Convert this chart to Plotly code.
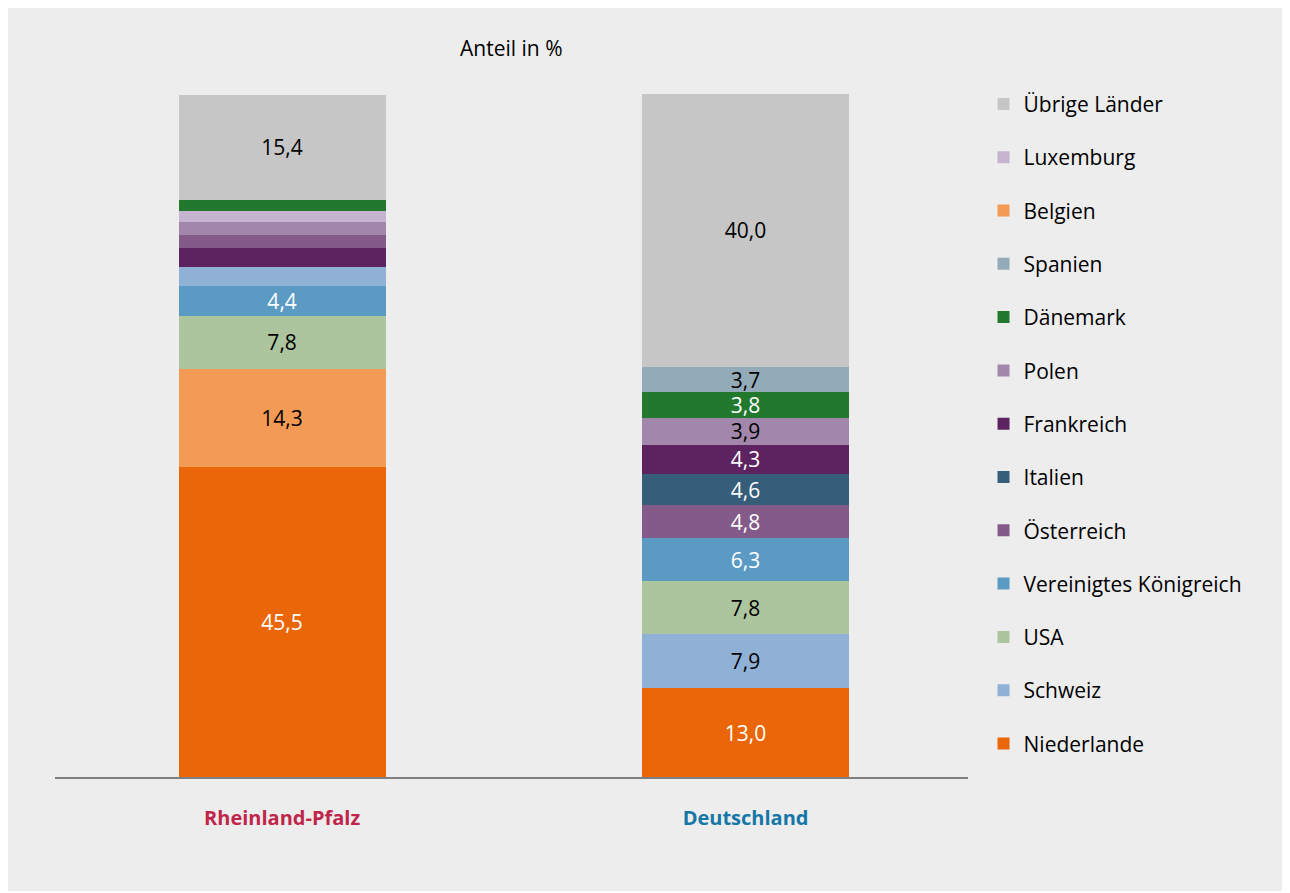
import plotly.graph_objects as go

bars = ["Rheinland-Pfalz", "Deutschland"]
bar_colors = ["#C0254A", "#1477A8"]

# stack order bottom -> top, values in %
rlp_countries = ["Niederlande", "Belgien", "USA", "Vereinigtes Königreich", "Schweiz",
                 "Frankreich", "Österreich", "Polen", "Luxemburg", "Dänemark", "Übrige Länder"]
rlp_values = [45.5, 14.3, 7.8, 4.4, 2.8, 2.8, 1.9, 1.8, 1.7, 1.6, 15.4]
rlp_labeled = [True, True, True, True, False, False, False, False, False, False, True]

de_countries = ["Niederlande", "Schweiz", "USA", "Vereinigtes Königreich", "Österreich",
                "Italien", "Frankreich", "Polen", "Dänemark", "Spanien", "Übrige Länder"]
de_values = [13.0, 7.9, 7.8, 6.3, 4.8, 4.6, 4.3, 3.9, 3.8, 3.7, 40.0]
de_labeled = [True] * 11

legend_order = ["Übrige Länder", "Luxemburg", "Belgien", "Spanien", "Dänemark", "Polen",
                "Frankreich", "Italien", "Österreich", "Vereinigtes Königreich", "USA",
                "Schweiz", "Niederlande"]

colors = {
    "Niederlande": "#EA6608",
    "Belgien": "#F39A55",
    "USA": "#ADC59F",
    "Vereinigtes Königreich": "#5A9AC3",
    "Schweiz": "#8FB1D5",
    "Frankreich": "#5C2360",
    "Österreich": "#845A89",
    "Polen": "#A386AB",
    "Luxemburg": "#C5B3CF",
    "Dänemark": "#22792E",
    "Übrige Länder": "#C6C6C6",
    "Italien": "#365D7A",
    "Spanien": "#93ABB9",
}
white_text = {"Niederlande", "Vereinigtes Königreich", "Frankreich", "Österreich",
              "Italien", "Dänemark"}

FONT = "Open Sans"
fig = go.Figure()
shown = set()
for bar, countries, values, labeled in [
    (bars[0], rlp_countries, rlp_values, rlp_labeled),
    (bars[1], de_countries, de_values, de_labeled),
]:
    for c, v, lab in zip(countries, values, labeled):
        txt = f"{v:.1f}".replace(".", ",") if lab else ""
        fig.add_trace(go.Bar(
            x=[bar], y=[v], name=c,
            marker=dict(color=colors[c], line=dict(width=0)),
            text=[txt], textposition="inside", insidetextanchor="middle",
            constraintext="none",
            textfont=dict(family=FONT, size=21,
                          color="white" if c in white_text else "black"),
            legendgroup=c, showlegend=c not in shown,
            legendrank=legend_order.index(c) + 1,
            width=0.447, hoverinfo="skip",
        ))
        shown.add(c)

fig.update_layout(
    barmode="stack",
    width=1280, height=883,
    margin=dict(l=47, r=320, t=86, b=114),
    paper_bgcolor="#EDEDED", plot_bgcolor="#EDEDED",
    font=dict(family=FONT, size=20, color="black"),
    legend=dict(
        x=1.017, xanchor="left", y=1.015, yanchor="top",
        traceorder="grouped", tracegroupgap=23, maxheight=1.0,
        font=dict(family=FONT, size=21, color="black"),
        bgcolor="rgba(0,0,0,0)",
    ),
    xaxis=dict(
        range=[-0.49, 1.48],
        tickmode="array", tickvals=bars,
        ticktext=[f'<span style="color:{col}"><b>{b}</b></span>'
                  for b, col in zip(bars, bar_colors)],
        showline=True, linecolor="#7F7F7F", linewidth=2,
        ticks="", showgrid=False, ticklabelstandoff=22,
        tickfont=dict(family=FONT, size=20),
    ),
    yaxis=dict(range=[0, 100.1], visible=False, showgrid=False),
    annotations=[dict(
        text="Anteil in %", x=0.5, y=1.067, xref="paper", yref="paper",
        xanchor="center", yanchor="middle", showarrow=False,
        font=dict(family=FONT, size=21, color="black"),
    )],
)

fig.write_html("out.html")
